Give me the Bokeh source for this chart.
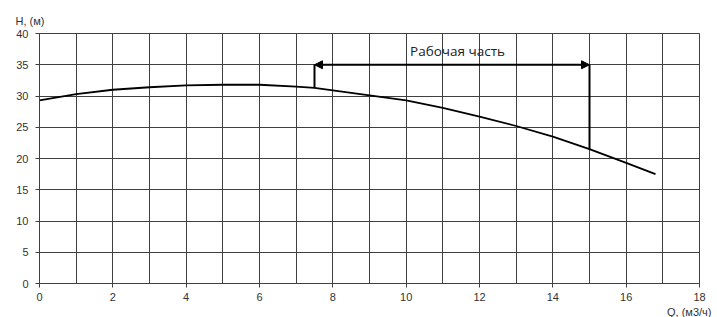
from bokeh.plotting import figure
from bokeh.models import Range1d, SingleIntervalTicker, Label, Arrow, NormalHead, Title
from bokeh.embed import file_html
from bokeh.resources import INLINE

q_vals = [0, 1, 2, 3, 4, 5, 6, 7, 7.5, 8, 9, 10, 11, 12, 13, 14, 15, 16, 16.8]
h_vals = [29.3, 30.3, 31.0, 31.4, 31.7, 31.8, 31.8, 31.5, 31.3, 30.9, 30.1, 29.3, 28.1, 26.7, 25.2, 23.5, 21.5, 19.3, 17.5]

work_q_start = 7.5
work_q_end = 15
work_h_start = 31.3
work_h_end = 21.5
bracket_h = 35
work_label = "Рабочая часть"

y_label = "H, (м)"
x_label = "Q, (м3/ч)"

p = figure(width=717, height=317, output_backend="svg", toolbar_location=None,
           x_range=Range1d(0, 18), y_range=Range1d(0, 40),
           min_border_left=39, min_border_right=18, min_border_top=33, min_border_bottom=34)
p.outline_line_color = "#404040"
p.background_fill_color = "white"

for ax in (p.xaxis, p.yaxis):
    ax.axis_line_color = "#404040"
    ax.major_tick_line_color = "#404040"
    ax.minor_tick_line_color = None
    ax.major_tick_out = 4
    ax.major_tick_in = 0
    ax.major_label_text_font = "Liberation Sans"
    ax.major_label_text_font_size = "11px"
    ax.major_label_text_color = "#333333"

p.xaxis.ticker = SingleIntervalTicker(interval=2)
p.yaxis.ticker = SingleIntervalTicker(interval=5)
p.xgrid.ticker = SingleIntervalTicker(interval=1)
p.ygrid.ticker = SingleIntervalTicker(interval=5)
p.xgrid.grid_line_color = "#404040"
p.ygrid.grid_line_color = "#404040"
p.xaxis.major_label_standoff = 5
p.yaxis.major_label_standoff = 7

p.line(q_vals, h_vals, line_color="black", line_width=1.8)

p.line([work_q_start, work_q_start], [work_h_start, bracket_h], line_color="black", line_width=2)
p.line([work_q_end, work_q_end], [work_h_end, bracket_h], line_color="black", line_width=2)
p.add_layout(Arrow(x_start=work_q_start, x_end=work_q_end, y_start=bracket_h, y_end=bracket_h,
                   line_width=2, line_color="black",
                   start=NormalHead(size=8, fill_color="black", line_color="black"),
                   end=NormalHead(size=8, fill_color="black", line_color="black")))

p.add_layout(Label(x=(work_q_start + work_q_end) / 2 + 0.15, y=37.2, text=work_label,
                   text_align="center", text_baseline="middle",
                   text_font="Open Sans", text_font_size="13.5px", text_color="#222222"))

p.add_layout(Title(text=y_label, align="left", offset=-24, standoff=13,
                   text_font="Liberation Sans", text_font_size="11px", text_color="#333333",
                   text_font_style="normal"), "above")
p.add_layout(Title(text=x_label, align="right", offset=-12, standoff=0,
                   text_font="Liberation Sans", text_font_size="11px", text_color="#333333",
                   text_font_style="normal"), "below")

open("out.html", "w").write(file_html(p, INLINE))
